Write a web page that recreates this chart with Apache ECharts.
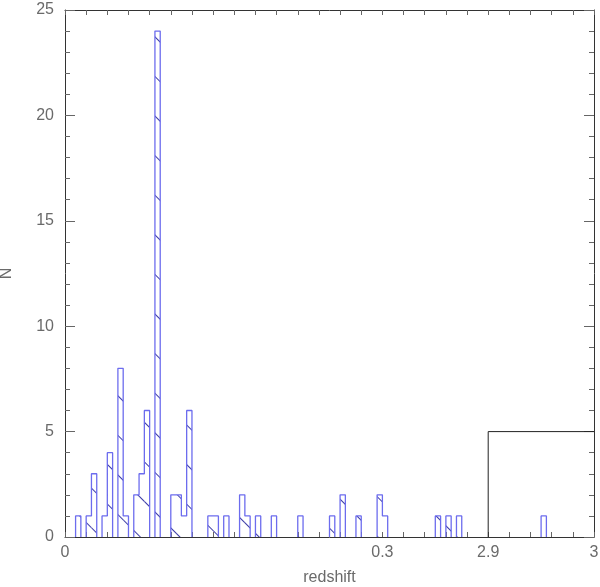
<!DOCTYPE html>
<html><head><meta charset="utf-8">
<script src="https://cdn.jsdelivr.net/npm/echarts@6/dist/echarts.min.js"></script>
<style>html,body{margin:0;padding:0;background:#fff}#c{width:600px;height:587px}</style>
</head><body><div id="c"></div>
<script>
// ---- data (real redshift values) ----
const binWidth = 0.005;
const blueBinStarts = [0.010, 0.020, 0.025, 0.035, 0.040, 0.050, 0.055, 0.065, 0.070, 0.075,
  0.085, 0.100, 0.105, 0.110, 0.115, 0.135, 0.140, 0.150, 0.165, 0.170,
  0.180, 0.195, 0.220, 0.250, 0.260, 0.275, 0.295, 0.300, 0.350, 0.360,
  0.370, 2.950];
const blueCounts = [1, 1, 3, 1, 4, 8, 1, 2, 3, 6,
  24, 2, 2, 1, 6, 1, 1, 1, 2, 1,
  1, 1, 1, 1, 2, 1, 2, 1, 1, 1,
  1, 1];
const blackBinStarts = [2.9];
const blackBinEnds = [3.0];
const blackCounts = [5];
const xTickValues = [0, 0.3, 2.9, 3];
const xTickLabels = ['0', '0.3', '2.9', '3'];
const yMax = 25;

// ---- broken x axis: [0,0.4] shown as is, [2.9,3.0] shown at [0.4,0.5] ----
function toPlot(z) { return z < 0.45 ? z : z - 2.5; }
const plotMax = 0.5;
const nBins = Math.round(plotMax / binWidth);

const heights = new Array(nBins).fill(0);
blueBinStarts.forEach((z, k) => { heights[Math.round(toPlot(z) / binWidth)] += blueCounts[k]; });

// outline (step) built from the same heights, broken between groups
const outline = [];
for (let i = 0; i < nBins; i++) {
  if (heights[i] > 0 && (i === 0 || heights[i - 1] === 0)) outline.push([i * binWidth, 0]);
  if (heights[i] > 0) outline.push([i * binWidth, heights[i]]);
  if (heights[i] > 0 && (i === nBins - 1 || heights[i + 1] === 0)) {
    outline.push([(i + 1) * binWidth, 0]);
    outline.push([(i + 1) * binWidth, '-']);
  }
}
const blackOutline = [];
blackBinStarts.forEach((z, k) => {
  blackOutline.push([toPlot(z), 0], [toPlot(z), blackCounts[k]], [toPlot(blackBinEnds[k]), blackCounts[k]], [toPlot(blackBinEnds[k]), '-']);
});

const labelMap = {};
xTickValues.forEach((z, k) => { labelMap[Math.round(toPlot(z) * 1000)] = xTickLabels[k]; });

const FONT = 'Liberation Sans';
const axisCol = '#333';
const tickCol = '#666';
const textCol = '#6a6a6a';

const chart = echarts.init(document.getElementById('c'), null, { renderer: 'canvas' });
chart.setOption({
  animation: false,
  grid: { left: 65, right: 6, top: 10, bottom: 50, containLabel: false, outerBoundsMode: 'none' },
  xAxis: [
    {
      type: 'value', min: 0, max: plotMax, interval: 0.02, position: 'bottom',
      axisLine: { onZero: false, lineStyle: { color: axisCol } },
      axisTick: { inside: true, length: 5, lineStyle: { color: tickCol } },
      splitLine: { show: false },
      axisLabel: {
        color: textCol, fontSize: 16, fontFamily: FONT, margin: 8,
        showMinLabel: true, showMaxLabel: true,
        formatter: v => labelMap[Math.round(v * 1000)] || ''
      },
      name: 'redshift', nameLocation: 'middle', nameGap: 33,
      nameTextStyle: { color: textCol, fontSize: 16, fontFamily: FONT }
    },
    {
      type: 'value', min: 0, max: plotMax, interval: 0.02, position: 'top',
      axisLine: { onZero: false, lineStyle: { color: axisCol } },
      axisTick: { inside: true, length: 5, lineStyle: { color: tickCol } },
      splitLine: { show: false }, axisLabel: { show: false }
    },
    {
      type: 'category', show: false, boundaryGap: true,
      data: heights.map((_, i) => i)
    }
  ],
  yAxis: [
    {
      type: 'value', min: 0, max: yMax, interval: 5, position: 'left',
      axisLine: { show: true, onZero: false, lineStyle: { color: axisCol } },
      axisTick: { show: true, inside: true, length: 10, lineStyle: { color: tickCol } },
      minorTick: { show: true, splitNumber: 5, length: 5, lineStyle: { color: tickCol } },
      splitLine: { show: false },
      axisLabel: { color: textCol, fontSize: 16, fontFamily: FONT, margin: 11 },
      name: 'N', nameLocation: 'middle', nameGap: 50, nameRotate: 90,
      nameTextStyle: { color: textCol, fontSize: 16, fontFamily: FONT }
    },
    {
      type: 'value', min: 0, max: yMax, interval: 5, position: 'right',
      axisLine: { show: true, onZero: false, lineStyle: { color: axisCol } },
      axisTick: { show: true, inside: true, length: 10, lineStyle: { color: tickCol } },
      minorTick: { show: true, splitNumber: 5, length: 5, lineStyle: { color: tickCol } },
      splitLine: { show: false }, axisLabel: { show: false }
    }
  ],
  series: [
    {
      type: 'bar', xAxisIndex: 2, yAxisIndex: 0,
      barWidth: '100%', barCategoryGap: '0%',
      data: heights.map(h => h > 0 ? h : '-'),
      silent: true,
      itemStyle: {
        color: 'rgba(255,255,255,0)',
        decal: {
          symbol: 'rect', symbolSize: 1,
          dashArrayX: [1, 0], dashArrayY: [1, 27],
          rotation: Math.PI / 4, color: '#3a3aa6', backgroundColor: null
        }
      }
    },
    {
      type: 'line', xAxisIndex: 0, yAxisIndex: 0, step: 'end',
      data: outline, showSymbol: false, symbol: 'none', silent: true,
      connectNulls: false,
      lineStyle: { color: '#6c6cee', width: 1.3 }, z: 3
    },
    {
      type: 'line', xAxisIndex: 0, yAxisIndex: 0,
      data: blackOutline, showSymbol: false, symbol: 'none', silent: true,
      lineStyle: { color: '#222', width: 1 }, z: 4
    }
  ]
});
</script></body></html>
